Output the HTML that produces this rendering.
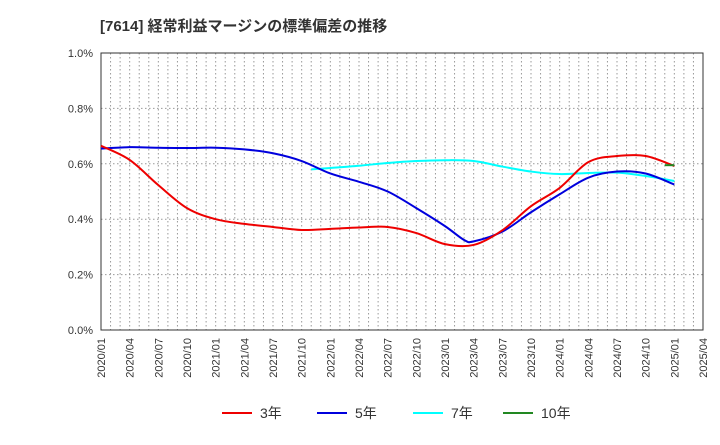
<!DOCTYPE html>
<html><head><meta charset="utf-8"><style>
body{margin:0;background:#fff;font-family:"Liberation Sans","Noto Sans CJK JP",sans-serif}
</style></head><body>
<svg id="c" width="720" height="440" xmlns="http://www.w3.org/2000/svg">
<text x="100" y="31" font-size="15" font-weight="bold" fill="#333" font-family="Liberation Sans, Noto Sans CJK JP, sans-serif">[7614]  経常利益マージンの標準偏差の推移</text>
<g id="grid"></g><g id="axes"></g><g id="series"></g><g id="legend"></g>
</svg>
<script>
const xLabels=["2020/01","2020/04","2020/07","2020/10","2021/01","2021/04","2021/07","2021/10","2022/01","2022/04","2022/07","2022/10","2023/01","2023/04","2023/07","2023/10","2024/01","2024/04","2024/07","2024/10","2025/01","2025/04"];
const yTicks=[0,0.2,0.4,0.6,0.8,1.0];
const months3=[0,3,6,9,12,15,18,21,24,27,30,33,36,39,42,45,48,51,54,57,60];
const s3=[0.665,0.614,0.523,0.44,0.40,0.383,0.372,0.361,0.365,0.37,0.372,0.35,0.31,0.307,0.36,0.447,0.513,0.606,0.628,0.628,0.592];
const months5=[0,3,6,9,12,15,18,21,24,27,30,33,36,38,39,42,45,48,51,54,57,60];
const s5=[0.655,0.66,0.658,0.657,0.658,0.652,0.638,0.61,0.565,0.535,0.5,0.44,0.375,0.325,0.32,0.355,0.425,0.49,0.55,0.572,0.565,0.525];
const months7=[22,24,27,30,33,36,39,42,45,48,51,54,57,60];
const s7=[0.58,0.585,0.593,0.603,0.61,0.613,0.61,0.59,0.572,0.563,0.567,0.568,0.556,0.538];
const months10=[59,60];
const s10=[0.595,0.595];
const L=101,R=703,T=53,B=330;
const xs=m=>L+m*(R-L)/63, ys=v=>B-v/1.0*(B-T);
const NS="http://www.w3.org/2000/svg";
function mk(p,t,a){const e=document.createElementNS(NS,t);for(const k in a)e.setAttribute(k,a[k]);p.appendChild(e);return e;}
const grid=document.getElementById('grid'),axes=document.getElementById('axes'),ser=document.getElementById('series'),leg=document.getElementById('legend');
for(let m=1;m<63;m++){const l=mk(grid,'line',{x1:xs(m),x2:xs(m),y1:T,y2:B,stroke:'#999','stroke-dasharray':'1.5,2.5','stroke-width':1});

}
yTicks.forEach(v=>{if(v>0&&v<1){const l=mk(grid,'line',{x1:L,x2:R,y1:ys(v),y2:ys(v),stroke:'#999','stroke-dasharray':'1.5,2.5'});

}
const t=mk(axes,'text',{x:L-8,y:ys(v)+4,'text-anchor':'end','font-size':11,fill:'#333'});t.textContent=v.toFixed(1)+'%';

});
xLabels.forEach((s,i)=>{const x=xs(i*3);const t=mk(axes,'text',{transform:`translate(${x+4},${B+8}) rotate(-90)`,'text-anchor':'end','font-size':11,fill:'#333'});t.textContent=s;

});
const fr=mk(axes,'rect',{x:L,y:T,width:R-L,height:B-T,fill:'none',stroke:'#333','stroke-width':1});


function path(ms,vs){const p=ms.map((m,i)=>[xs(m),ys(vs[i])]);let d=`M${p[0][0]},${p[0][1]}`;
for(let i=0;i<p.length-1;i++){const p0=p[Math.max(0,i-1)],p1=p[i],p2=p[i+1],p3=p[Math.min(p.length-1,i+2)];
d+=` C${p1[0]+(p2[0]-p0[0])/6},${p1[1]+(p2[1]-p0[1])/6} ${p2[0]-(p3[0]-p1[0])/6},${p2[1]-(p3[1]-p1[1])/6} ${p2[0]},${p2[1]}`;}return d;}
const defs=[[months7,s7,'#00ffff','series-7y'],[months5,s5,'#0000dd','series-5y'],[months3,s3,'#ee0000','series-3y'],[months10,s10,'#228822','series-10y']];
defs.forEach(([m,v,c,n])=>{const e=mk(ser,'path',{d:path(m,v),fill:'none',stroke:c,'stroke-width':2});

});
const legs=[['3年','#ee0000',222],['5年','#0000dd',317],['7年','#00ffff',413],['10年','#228822',503]];
legs.forEach(([t,c,x])=>{const g=mk(leg,'g',{});


mk(g,'line',{x1:x,x2:x+30,y1:413,y2:413,stroke:c,'stroke-width':2});
const tx=mk(g,'text',{x:x+38,y:418,'font-size':14,fill:'#333'});tx.textContent=t;});
</script>
</body></html>
